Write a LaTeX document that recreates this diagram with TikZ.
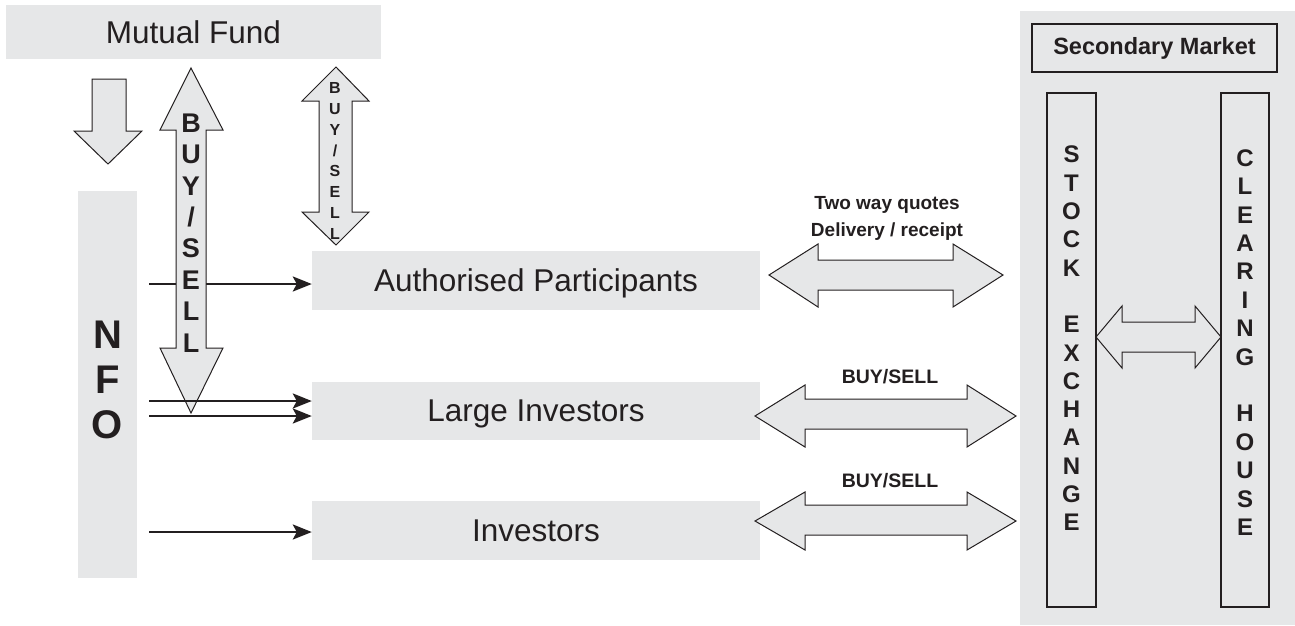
\documentclass[tikz,border=0pt]{standalone}
\usepackage{fontspec}
\setmainfont{Liberation Sans}
\usetikzlibrary{arrows.meta}
\definecolor{boxgray}{HTML}{E6E7E8}
\definecolor{ink}{HTML}{231F20}
\tikzset{
  box/.style={fill=boxgray, inner sep=0pt, text=ink},
  framed/.style={draw=ink, line width=1.2pt, inner sep=0pt, text=ink},
  fat/.style={draw=ink, fill=boxgray, line width=1pt, line join=miter},
  feed/.style={draw=ink, line width=2.4pt, -{Stealth[length=19pt,width=15pt,inset=4pt]}},
  bigtext/.style={font=\fontsize{31.5}{36}\selectfont, text depth=0pt},
  stack/.style={align=center, inner sep=0pt, text=ink}
}
\begin{document}
\begin{tikzpicture}[x=1pt,y=-1pt]
\useasboundingbox (0,0) rectangle (1295,625);
% secondary market panel
\fill[boxgray] (1020,11) rectangle (1295,625);
\node[framed, minimum width=245pt, minimum height=48pt, font=\bfseries\fontsize{23.5}{28}\selectfont] (sm) at (1154.5,48) {Secondary Market};
\node[framed, minimum width=49pt, minimum height=514pt] (se) at (1071.5,350) {};
\node[framed, minimum width=48pt, minimum height=514pt] (ch) at (1245,350) {};
\node[stack, font=\bfseries\fontsize{24}{28.3}\selectfont] (setext) at ([yshift=11.5pt]se.center) {S\\T\\O\\C\\K\\[28.3pt]E\\X\\C\\H\\A\\N\\G\\E};
\node[stack, font=\bfseries\fontsize{24}{28.4}\selectfont] (chtext) at ([yshift=7.5pt]ch.center) {C\\L\\E\\A\\R\\I\\N\\G\\[28.4pt]H\\O\\U\\S\\E};
\draw[fat] (1096,337) -- (1122,306) -- (1122,322) -- (1195,322) -- (1195,306) -- (1221,337)
  -- (1195,368) -- (1195,352) -- (1122,352) -- (1122,368) -- cycle;
% fund side
\node[box, minimum width=375pt, minimum height=54pt, bigtext] (mf) at (193.5,32) {Mutual Fund};
\node[box, minimum width=59pt, minimum height=387pt] (nfo) at (107.5,384.5) {};
\node[stack, font=\bfseries\fontsize{40}{45}\selectfont] (nfotext) at ([yshift=4.5pt]nfo.center) {N\\F\\O};
\node[box, minimum width=448pt, minimum height=59pt, bigtext] (ap) at (536,280.5) {Authorised Participants};
\node[box, minimum width=448pt, minimum height=58pt, bigtext] (li) at (536,411) {Large Investors};
\node[box, minimum width=448pt, minimum height=59pt, bigtext] (inv) at (536,530.5) {Investors};
\draw[fat] (92,79) -- (126,79) -- (126,131) -- (142,131) -- (108,164) -- (74,131) -- (92,131) -- cycle;
\coordinate (o1) at (149,284);
\coordinate (o2) at (149,401);
\coordinate (o3) at (149,416);
\coordinate (o4) at (149,532);
\draw[feed] (o1) -- (o1 -| ap.west);
% buy/sell arrows
\draw[fat] (191,68) -- (223,130) -- (206,130) -- (206,348) -- (223,348) -- (191,413)
  -- (160,348) -- (176,348) -- (176,130) -- (160,130) -- cycle;
\node[stack, font=\bfseries\fontsize{27}{31.4}\selectfont] (bsbig) at (191,233) {B\\U\\Y\\/\\S\\E\\L\\L};
\draw[fat] (336,67) -- (369,101) -- (352,101) -- (352,212) -- (369,212) -- (336,245)
  -- (302,212) -- (319,212) -- (319,101) -- (302,101) -- cycle;
\node[stack, font=\bfseries\fontsize{16}{20.9}\selectfont] (bssmall) at (335,161) {B\\U\\Y\\/\\S\\E\\L\\L};
\draw[feed] (o2) -- (o2 -| li.west);
\draw[feed] (o3) -- (o3 -| li.west);
\draw[feed] (o4) -- (o4 -| inv.west);
% secondary market links
\draw[fat] (769,275) -- (818,244) -- (818,260) -- (953,260) -- (953,244) -- (1003,275)
  -- (953,307) -- (953,290) -- (818,290) -- (818,307) -- cycle;
\draw[fat] (755,416) -- (805,385) -- (805,399) -- (967,399) -- (967,385) -- (1016,416)
  -- (967,447) -- (967,429) -- (805,429) -- (805,447) -- cycle;
\draw[fat] (755,521) -- (805,492) -- (805,505) -- (967,505) -- (967,492) -- (1016,521)
  -- (967,550) -- (967,535) -- (805,535) -- (805,550) -- cycle;
\node[stack, font=\bfseries\fontsize{19}{27}\selectfont] (quotes) at (887,218) {Two way quotes\\Delivery / receipt};
\node[stack, font=\bfseries\fontsize{19.5}{24}\selectfont] (bs1) at (890,377) {BUY/SELL};
\node[stack, font=\bfseries\fontsize{19.5}{24}\selectfont] (bs2) at (890,481) {BUY/SELL};
\end{tikzpicture}
\end{document}
